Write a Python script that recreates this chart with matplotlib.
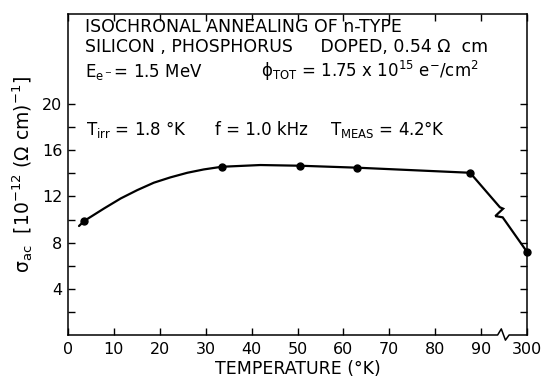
import numpy as np
import matplotlib
matplotlib.use("Agg")
import matplotlib.pyplot as plt
import matplotlib.transforms as mtransforms

plt.rcParams["font.family"] = ["DejaVu Sans"]
plt.rcParams["mathtext.fontset"] = "dejavusans"

# measured points (temperature in K, sigma_ac in 1e-12 (ohm cm)^-1)
meas_T = [3.5, 33.5, 50.5, 63.0, 87.6, 300]
meas_sigma = [9.87, 14.57, 14.66, 14.49, 14.05, 7.2]

# smooth annealing curve through the low temperature points
curve_T = [2.4, 3.5, 7.9, 11.5, 15.1, 18.7, 22.3, 26.0, 29.6, 33.5, 41.9, 50.5, 63.0, 87.6]
curve_sigma = [9.44, 9.87, 10.97, 11.83, 12.55, 13.19, 13.65, 14.05, 14.34, 14.57, 14.72, 14.66, 14.49, 14.05]

# segment to room temperature, with the break mark on the line
tail_T = [87.6, 94.1, 94.8, 93.1, 94.7, 300]
tail_sigma = [14.05, 11.06, 10.94, 10.30, 10.19, 7.2]

xtick_T = [0, 10, 20, 30, 40, 50, 60, 70, 80, 90, 300]
ytick_major = [4, 8, 12, 16, 20]
ytick_minor = [2, 6, 10, 14, 18]


def to_axis(T):
    # temperatures above the break are drawn at position 100
    T = np.asarray(T, dtype=float)
    return np.where(T > 95, 100.0, T)


fig = plt.figure(figsize=(5.45, 3.77), dpi=100)
ax = fig.add_axes([68 / 545, 42 / 377, 459 / 545, 321 / 377])

lw = 1.6
ax.plot(to_axis(curve_T), curve_sigma, color="black", lw=lw, solid_capstyle="round")
ax.plot(to_axis(tail_T), tail_sigma, color="black", lw=lw, solid_joinstyle="miter")
ax.plot(to_axis(meas_T), meas_sigma, "o", color="black", ms=5, clip_on=False, zorder=5)

ax.set_xlim(0, 100)
ax.set_ylim(0, 27.8)

ax.set_xticks(to_axis(xtick_T))
ax.set_xticklabels([str(t) for t in xtick_T])
ax.set_yticks(ytick_major)
ax.set_yticks(ytick_minor, minor=True)
ax.set_yticklabels([str(v) for v in ytick_major])

ax.tick_params(axis="x", which="both", direction="in", top=True, length=5,
               width=1.0, labelsize=11.5, pad=5)
ax.tick_params(axis="y", which="both", direction="in", right=True, length=5,
               width=1.0, labelsize=11.5, pad=4)

for side in ["left", "right", "top"]:
    ax.spines[side].set_linewidth(1.1)
ax.spines["bottom"].set_visible(False)

# bottom axis line with the break between 90 and 300
trans = mtransforms.blended_transform_factory(ax.transData, ax.transAxes)
ax.plot([0, 93.6, 94.4, 95.3, 96.1, 100], [0, 0, 0.019, -0.016, 0, 0],
        color="black", lw=1.1, transform=trans, clip_on=False)

ax.set_xlabel("TEMPERATURE (°K)", fontsize=12.5, labelpad=2)
ax.set_ylabel(r"$\mathregular{\sigma_{ac}}$  $[10^{-12}\ (\Omega\ \mathrm{cm})^{-1}]$",
              fontsize=13.5, labelpad=5)

ax.text(0.037, 0.944, "ISOCHRONAL ANNEALING OF n-TYPE", transform=ax.transAxes,
        fontsize=12.5, va="baseline", ha="left")
ax.text(0.037, 0.8816, "SILICON , PHOSPHORUS     DOPED, 0.54 Ω  cm",
        transform=ax.transAxes, fontsize=12.5, va="baseline", ha="left")
ax.text(0.037, 0.8037, r"E$_{\mathregular{e^-}}$= 1.5 MeV", transform=ax.transAxes,
        fontsize=12, va="baseline", ha="left")
ax.text(0.42, 0.8037, r"ϕ$_{\mathregular{TOT}}$ = 1.75 x 10$^{15}$ e$^{-}$/cm$^2$",
        transform=ax.transAxes, fontsize=12, va="baseline", ha="left")
ax.text(0.04, 0.623, r"T$_{\mathregular{irr}}$ = 1.8 °K", transform=ax.transAxes,
        fontsize=12, va="baseline", ha="left")
ax.text(0.32, 0.623, "f = 1.0 kHz", transform=ax.transAxes,
        fontsize=12, va="baseline", ha="left")
ax.text(0.57, 0.623, r"T$_{\mathregular{MEAS}}$ = 4.2°K", transform=ax.transAxes,
        fontsize=12, va="baseline", ha="left")

fig.savefig("out.png", dpi=100)
